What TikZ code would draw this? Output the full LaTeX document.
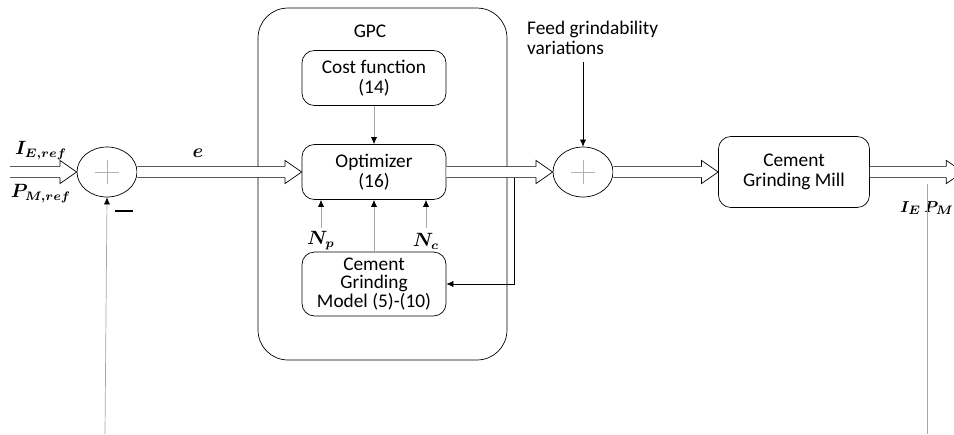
\documentclass[tikz,border=0pt]{standalone}
\usepackage{amsmath}
\usepackage{fontspec}
\setmainfont{Carlito}
\usetikzlibrary{shapes.geometric,arrows.meta,calc}

% hollow block arrow between two named points
\newcommand{\fatarrow}[2]{%
  \draw[fatarr] let \p1=(#1), \p2=(#2) in
    (\x1,\y1+3.2pt) -- (\x2-9.5pt,\y1+3.2pt) -- (\x2-9.5pt,\y1+6.6pt) -- (\x2,\y1)
    -- (\x2-9.5pt,\y1-6.6pt) -- (\x2-9.5pt,\y1-3.2pt) -- (\x1,\y1-3.2pt);}

\begin{document}
\begin{tikzpicture}[x=0.02cm, y=-0.02cm,
  blockbox/.style={rectangle, draw, rounded corners=7pt, minimum width=2.88cm,
    minimum height=1.1cm, align=center, font=\fontsize{11}{11.5}\selectfont},
  millbox/.style={blockbox, minimum width=3.02cm, minimum height=1.42cm},
  gpcbox/.style={rectangle, draw, rounded corners=17pt, minimum width=4.98cm,
    minimum height=7.04cm},
  sumnode/.style={ellipse, draw, minimum width=1.2cm, minimum height=1cm,
    path picture={\draw[gray!60] (path picture bounding box.center) ++(-0.24cm,0pt) -- ++(0.48cm,0pt)
      (path picture bounding box.center) ++(0pt,-0.24cm) -- ++(0pt,0.48cm);}},
  fatarr/.style={draw, fill=white, line join=miter},
  sigarr/.style={draw=gray!70, -{Latex[length=4pt, width=3.5pt, color=black]}},
  fbline/.style={draw=gray!70},
  lbl/.style={font=\fontsize{11}{11.5}\selectfont},
  mathlbl/.style={font=\fontsize{10.5}{12}\selectfont, inner sep=1pt},
]
\useasboundingbox (0,0) rectangle (954,434);

% Horizontal positions
\def\xsuma{107}
\def\xgpc{374}
\def\xsumb{583}
\def\xmill{794}
% Main signal row
\def\ymain{172}

% ============================================================
% GPC block
% ============================================================
\node[gpcbox] (gpc) at (382.5,184) {};
\node[lbl] (gpclbl) at (370,31) {GPC};

\node[blockbox] (cost) at (\xgpc,78) {Cost function\\(14)};
\node[blockbox] (opt) at (\xgpc,\ymain) {Optimizer\\(16)};
\node[blockbox, font=\fontsize{11}{10.5}\selectfont] (model) at (\xgpc,284) {Cement\\Grinding\\Model (5)-(10)};

\coordinate (np) at (321,228);
\coordinate (nc) at (426,228);
\node[mathlbl] (nplbl) at (321,241) {$\boldsymbol{N_p}$};
\node[mathlbl] (nclbl) at (426,241) {$\boldsymbol{N_c}$};

\draw[sigarr] (cost) -- (opt);
\draw[sigarr] (model) -- (opt);
\draw[sigarr] (np) -- (np |- opt.south);
\draw[sigarr] (nc) -- (nc |- opt.south);

% ============================================================
% Loop
% ============================================================
\node[sumnode] (suma) at (\xsuma,\ymain) {};
\node[sumnode] (sumb) at (\xsumb,\ymain) {};
\node[millbox] (mill) at (\xmill,\ymain) {Cement\\Grinding Mill};

\coordinate (in) at (10,\ymain);
\coordinate (out) at (963,174);
\coordinate (tap) at (514,178);
\coordinate (fbl) at (105,434);
\coordinate (fbr) at (927,184);
\coordinate (fbrend) at (927,434);

\fatarrow{in}{suma.west}
\fatarrow{suma.east}{opt.west}
\fatarrow{opt.east}{sumb.west}
\fatarrow{sumb.east}{mill.west}
\fatarrow{mill.east}{out}

\node[mathlbl] (ieref) at (41,151) {$\boldsymbol{I_{E,ref}}$};
\node[mathlbl] (pmref) at (41,194) {$\boldsymbol{P_{M,ref}}$};
\node[mathlbl] (elbl) at (198,153) {$\boldsymbol{e}$};
\node (minus) at (124,211) {\rule{0.38cm}{0.7pt}};
\node[mathlbl, anchor=east, font=\fontsize{9.5}{11}\selectfont] (ie) at (923,208) {$\boldsymbol{I_E}$};
\node[mathlbl, anchor=east, inner sep=0pt, font=\fontsize{9.5}{11}\selectfont] (pm) at (954,208) {$\boldsymbol{P_M}$};

\node[lbl, align=left, anchor=west] (feed) at (521,38) {Feed grindability\\variations};
\coordinate (feedtop) at (\xsumb,62);
\draw[-{Latex[length=4pt, width=3.5pt]}] (feedtop) -- (sumb.north);

% feedback paths
\draw[-{Latex[length=4pt, width=3.5pt]}] (tap) |- (model.east);
\draw[sigarr] (fbl) -- (suma.south);
\draw[fbline] (fbr) -- (fbrend);

\end{tikzpicture}
\end{document}
